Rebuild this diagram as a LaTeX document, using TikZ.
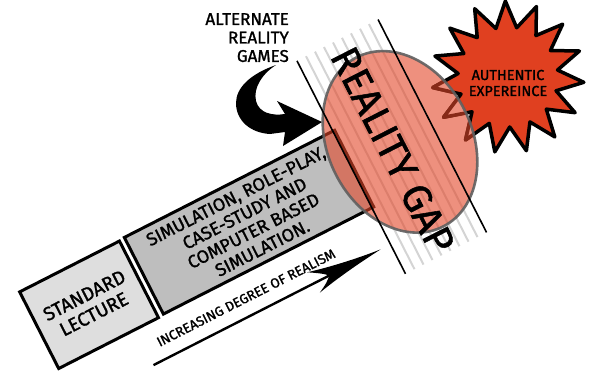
\documentclass[tikz,border=0pt]{standalone}
\usepackage{fontspec}
\setmainfont{Fira Sans}[BoldFont=Fira Sans, BoldFeatures={FakeBold=1.3}]
\definecolor{starred}{RGB}{224,64,32}
\definecolor{gapred}{RGB}{226,70,40}
\definecolor{lecgray}{RGB}{222,222,222}
\definecolor{simgray}{RGB}{190,190,190}
\definecolor{stripegray}{RGB}{212,212,212}
\definecolor{rimgray}{RGB}{95,95,95}
\def\authstar{(-92:76) \foreach \k in {0,...,14} { -- ({-104-24*\k}:50) -- ({-116-24*\k}:76) } -- cycle}
\begin{document}
\begin{tikzpicture}[x=1pt,y=-1pt,
  boxstyle/.style={draw=black, line width=3pt, align=center, inner sep=0pt},
  stripe/.style={draw=stripegray, line width=2pt},
  bandline/.style={draw=black, line width=1.6pt},
  starstyle/.style={fill=starred, draw=black, line width=3.5pt, line join=round},
  gapfill/.style={fill=gapred, fill opacity=0.6, draw=rimgray, draw opacity=0.9, line width=2.6pt},
  lbl/.style={inner sep=0pt, align=center, text=black}]
\useasboundingbox (0,0) rectangle (596,378);

% boxes and stripes in rotated frame
\begin{scope}[rotate=27, transform shape]
  \node[boxstyle, fill=lecgray, minimum width=112pt, minimum height=86pt,
        font=\fontsize{19}{21}\selectfont\bfseries] (lecture) at (-59,312) {STANDARD\\LECTURE};
  \node[boxstyle, fill=simgray, minimum width=236pt, minimum height=86pt,
        font=\fontsize{18}{19.5}\selectfont\bfseries] (sim) at (121,311) {SIMULATION, ROLE-PLAY,\\CASE-STUDY AND\\COMPUTER BASED\\SIMULATION.};
  \foreach \k in {1,...,8} { \draw[stripe] ({237+10.1*\k},189) -- ({237+10.1*\k},428); }
\end{scope}

% star
\begin{scope}[shift={(508,77)}]
  \path[starstyle] \authstar;
\end{scope}
\begin{scope}[rotate=27]
  \clip (292,308) ellipse [x radius=72pt, y radius=95pt];
  \begin{scope}[rotate=-27, shift={(508,77)}]
    \path[fill=white, draw=black, line width=3.5pt, line join=round] \authstar;
  \end{scope}
\end{scope}

% ellipse and band
\begin{scope}[rotate=27, transform shape]
  \path[gapfill] (292,308) ellipse [x radius=72pt, y radius=95pt];
  \coordinate (b1s) at (237,189); \coordinate (b1e) at (237,428);
  \coordinate (b2s) at (328,189); \coordinate (b2e) at (328,428);
  \draw[bandline] (b1s) -- (b1e);
  \draw[bandline] (b2s) -- (b2e);
  \node[lbl, rotate=-90, font=\fontsize{40}{40}\selectfont\bfseries] (gap) at (282,312) {REALITY GAP};
  \node[lbl, font=\fontsize{13.5}{15}\selectfont\bfseries] (incr) at (84,377) {INCREASING DEGREE OF REALISM};
  \coordinate (a1) at (-29,395); \coordinate (a2) at (200,395);
  \draw[line width=2.4pt] (a1) -- (a2);
  \fill (226,395) .. controls (195,392) and (165,386) .. (150,382) .. controls (160,388) and (166,392) .. (168,395) .. controls (166,398) and (160,402) .. (152,406) .. controls (170,402) and (195,398) .. (226,395) -- cycle;
\end{scope}

\node[lbl, font=\fontsize{14.5}{16}\selectfont\bfseries] (auth) at (508,83) {AUTHENTIC\\EXPEREINCE};

\node[lbl, anchor=north east, align=right, font=\fontsize{17}{18.5}\selectfont\bfseries] (arg) at (289,13) {ALTERNATE\\REALITY\\GAMES};

% curved arrow
\fill (276,65) .. controls (250,74) and (236,88) .. (236,103) .. controls (236,121) and (251,133) .. (270,134) -- (285,132) -- (283,146) -- (322,122) -- (277,101) -- (285,114) .. controls (272,116) and (259,113) .. (256,101) .. controls (253,88) and (262,74) .. (276,65) -- cycle;
\end{tikzpicture}
\end{document}
